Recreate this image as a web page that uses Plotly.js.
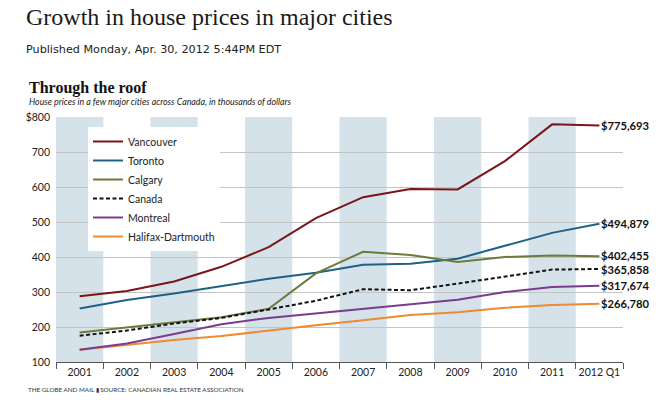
<!DOCTYPE html>
<html>
<head>
<meta charset="utf-8">
<script src="https://cdn.plot.ly/plotly-3.0.1.min.js"></script>
<style>html,body{margin:0;padding:0;background:#fff;}#chart{width:662px;height:403px;}</style>
</head>
<body>
<div id="chart"></div>
<script>
// ---- Data (thousands of dollars) ----
var categories = ['2001','2002','2003','2004','2005','2006','2007','2008','2009','2010','2011','2012 Q1'];
var vancouver = [288, 303, 330, 372, 428, 511, 571, 594, 593, 674, 779, 775.693];
var toronto   = [253, 277, 296, 318, 338, 355, 378, 381, 395, 432, 469, 494.879];
var calgary   = [184, 198, 212, 228, 252, 353, 415, 406, 386, 400, 404, 402.455];
var canada    = [175, 190, 210, 226, 250, 275, 308, 305, 324, 343, 364, 365.858];
var montreal  = [135, 153, 180, 208, 226, 239, 251, 265, 278, 300, 314, 317.674];
var halifax   = [135, 150, 163, 174, 190, 205, 219, 234, 242, 255, 263, 266.780];
var endLabels = ['$775,693', '$494,879', '$402,455', '$365,858', '$317,674', '$266,780'];
var shadedYears = ['2001','2003','2005','2007','2009','2011'];
var yTickVals = [100, 200, 300, 400, 500, 600, 700, 800];
var yTickText = ['100', '200', '300', '400', '500', '600', '700', '$800'];

var FONT = 'Lato, "Open Sans", sans-serif';

var series = [
  {name: 'Vancouver', y: vancouver, color: '#7a1518', dash: 'solid', rank: 1, label: endLabels[0], ys: 0},
  {name: 'Toronto', y: toronto, color: '#1d6186', dash: 'solid', rank: 2, label: endLabels[1], ys: 0},
  {name: 'Calgary', y: calgary, color: '#6b7a3e', dash: 'solid', rank: 3, label: endLabels[2], ys: 1},
  {name: 'Halifax-Dartmouth', y: halifax, color: '#ee8a2f', dash: 'solid', rank: 6, label: endLabels[5], ys: 0},
  {name: 'Montreal', y: montreal, color: '#7a3d8e', dash: 'solid', rank: 5, label: endLabels[4], ys: 0},
  {name: 'Canada', y: canada, color: '#111111', dash: '4px,2.5px', rank: 4, label: endLabels[3], ys: -1}
];

var traces = series.map(function(s){
  return {
    type: 'scatter', mode: 'lines', name: s.name, x: categories, y: s.y,
    line: {color: s.color, width: 2, dash: s.dash},
    legendrank: s.rank, hoverinfo: 'skip'
  };
});

var L = 56, R = 39, T = 117, B = 41, W = 662, H = 403;
var PW = W - L - R, PH = H - T - B;
function xp(px){ return (px - L) / PW; }
function yp(py){ return (H - B - py) / PH; }

var shapes = shadedYears.map(function(yr){
  var i = categories.indexOf(yr);
  return {type: 'rect', xref: 'x', yref: 'paper', x0: i - 0.5, x1: i + 0.5, y0: 0, y1: 1,
          fillcolor: '#d6e2e9', line: {width: 0}, layer: 'below'};
});

var annotations = [
  {text: 'Growth in house prices in major cities', xref: 'paper', yref: 'paper', x: xp(24), y: yp(17),
   xanchor: 'left', yanchor: 'middle', showarrow: false,
   font: {family: '"Liberation Serif", serif', size: 24, color: '#1a1a1a'}},
  {text: 'Published Monday, Apr. 30, 2012 5:44PM EDT', xref: 'paper', yref: 'paper', x: xp(24), y: yp(49),
   xanchor: 'left', yanchor: 'middle', showarrow: false,
   font: {family: '"DejaVu Sans", Verdana, sans-serif', size: 11.2, color: '#222'}},
  {text: '<b>Through the roof</b>', xref: 'paper', yref: 'paper', x: xp(27), y: yp(88),
   xanchor: 'left', yanchor: 'middle', showarrow: false,
   font: {family: '"Liberation Serif", serif', size: 16, color: '#111'}},
  {text: '<i>House prices in a few major cities across Canada, in thousands of dollars</i>', xref: 'paper', yref: 'paper',
   x: xp(27), y: yp(101.5), xanchor: 'left', yanchor: 'middle', showarrow: false,
   font: {family: FONT, size: 8.8, color: '#222'}},
  {text: 'THE GLOBE AND MAIL \u25AE SOURCE: CANADIAN REAL ESTATE ASSOCIATION', xref: 'paper', yref: 'paper',
   x: xp(26), y: yp(389), xanchor: 'left', yanchor: 'middle', showarrow: false,
   font: {family: FONT, size: 6.3, color: '#333'}}
];

series.forEach(function(s){
  annotations.push({
    text: '<b>' + s.label + '</b>', xref: 'x', yref: 'y', x: categories[categories.length - 1],
    y: s.y[s.y.length - 1], xanchor: 'left', yanchor: 'middle', xshift: 1, yshift: s.ys,
    showarrow: false, borderpad: 0,
    font: {family: FONT, size: 11.2, color: '#111'}
  });
});

var layout = {
  width: W, height: H,
  margin: {l: L, r: R, t: T, b: B, pad: 0},
  paper_bgcolor: '#ffffff', plot_bgcolor: 'rgba(0,0,0,0)',
  showlegend: true,
  legend: {x: xp(88), y: yp(127), xanchor: 'left', yanchor: 'top', bgcolor: '#ffffff',
           borderwidth: 0, font: {family: FONT, size: 10.5, color: '#222'}, itemwidth: 30,
           traceorder: 'normal'},
  xaxis: {type: 'category', range: [-0.5, categories.length - 0.5], showgrid: false,
          showline: true, linecolor: '#555', linewidth: 1.2, tickangle: 0,
          ticks: 'outside', tickson: 'boundaries', ticklen: 6, tickcolor: '#555', tickwidth: 1,
          tickfont: {family: FONT, size: 10.5, color: '#222'}, fixedrange: true, zeroline: false},
  yaxis: {range: [100, 800], tickvals: yTickVals, ticktext: yTickText, showgrid: true,
          gridcolor: '#c4c4c4', gridwidth: 1, zeroline: false, showline: false, ticks: '',
          tickfont: {family: FONT, size: 10.5, color: '#222'}, fixedrange: true, ticklabelstandoff: 5},
  shapes: shapes,
  annotations: annotations
};

Plotly.newPlot('chart', traces, layout, {displayModeBar: false, staticPlot: true});
</script>
</body>
</html>
